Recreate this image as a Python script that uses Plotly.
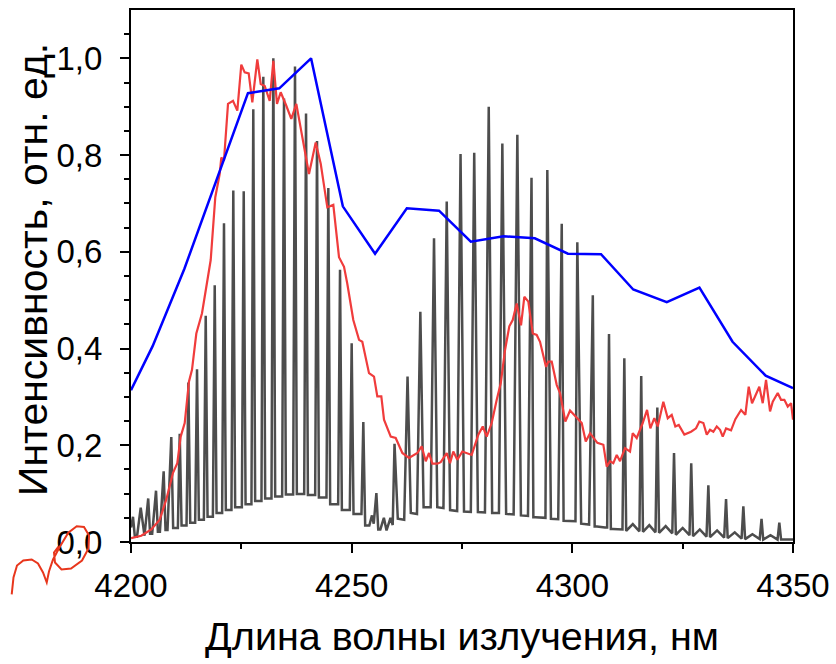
import plotly.graph_objects as go

# ---------------- data ----------------
# Gray high-resolution spectrum: peak tops and valley points (nm, rel. units)
peak_wl = [4200.45, 4202.2, 4203.9, 4205.67, 4207.4, 4209.13, 4211.04, 4213.0, 4214.96, 4216.93,
           4218.97, 4221.07, 4223.18, 4225.54, 4227.71, 4229.98, 4232.25, 4234.67, 4237.16, 4239.66,
           4242.15, 4244.71, 4247.36, 4250.0, 4252.64, 4255.6, 4259.71, 4262.66, 4265.56, 4268.66,
           4271.54, 4274.67, 4277.77, 4281.06, 4284.14, 4287.54, 4290.75, 4294.33, 4297.6, 4301.13,
           4304.64, 4308.31, 4311.78, 4315.61, 4319.26, 4323.04, 4326.94, 4330.82, 4334.83, 4338.75,
           4342.87, 4346.9]
peak_int = [0.052, 0.071, 0.090, 0.106, 0.146, 0.217, 0.224, 0.33, 0.357, 0.468,
            0.531, 0.659, 0.727, 0.725, 0.895, 0.962, 1.0, 0.917, 0.983, 0.886,
            0.829, 0.732, 0.563, 0.411, 0.248, 0.101, 0.203, 0.342, 0.476, 0.628,
            0.704, 0.802, 0.805, 0.900, 0.824, 0.842, 0.753, 0.769, 0.658, 0.620,
            0.510, 0.430, 0.380, 0.343, 0.278, 0.184, 0.163, 0.117, 0.089, 0.074,
            0.048, 0.040]

valley_wl = [4200.0, 4201.36, 4203.06, 4204.8, 4206.55, 4208.27, 4210.08, 4212.0, 4213.96, 4215.93,
             4217.95, 4220.0, 4222.12, 4224.36, 4226.63, 4228.85, 4231.11, 4233.45, 4235.92, 4238.41,
             4240.9, 4243.42, 4246.0, 4248.67, 4251.33,
             4254.0, 4254.6, 4255.0, 4256.5, 4257.3, 4257.9, 4258.8, 4259.3,
             4260.45, 4261.9, 4263.4, 4264.8, 4266.3, 4267.9, 4269.4, 4270.8, 4272.3, 4273.9,
             4275.45, 4277.0, 4278.6, 4280.2, 4281.83, 4283.37, 4285.0, 4286.7, 4288.35, 4289.95,
             4291.65, 4293.4, 4295.15, 4296.8, 4298.5, 4300.25, 4302.0, 4303.8, 4305.6, 4307.4,
             4309.2, 4310.9, 4312.2, 4313.7, 4315.2, 4316.0, 4317.44, 4318.85, 4319.65, 4321.15,
             4322.65, 4323.45, 4325.0, 4326.55, 4327.35, 4328.88, 4330.4, 4331.2, 4332.8, 4334.4,
             4335.2, 4336.8, 4338.35, 4339.15, 4340.8, 4342.45, 4343.25, 4344.9, 4346.5, 4347.3, 4350.0]
valley_int = [0.030, 0.011, 0.013, 0.017, 0.021, 0.025, 0.029, 0.034, 0.040, 0.046,
              0.052, 0.060, 0.066, 0.072, 0.078, 0.085, 0.090, 0.094, 0.098, 0.099,
              0.097, 0.092, 0.078, 0.066, 0.058,
              0.034, 0.055, 0.038, 0.026, 0.050, 0.024, 0.050, 0.035,
              0.048, 0.046, 0.060, 0.058, 0.072, 0.072, 0.072, 0.070, 0.066, 0.064,
              0.063, 0.062, 0.062, 0.061, 0.060, 0.060, 0.058, 0.057, 0.055, 0.054,
              0.051, 0.050, 0.048, 0.047, 0.044, 0.043, 0.038, 0.036, 0.032, 0.030,
              0.027, 0.026, 0.023, 0.037, 0.022, 0.021, 0.035, 0.020, 0.019, 0.033,
              0.018, 0.015, 0.029, 0.014, 0.012, 0.026, 0.011, 0.010, 0.024, 0.009,
              0.008, 0.020, 0.007, 0.006, 0.016, 0.006, 0.005, 0.014, 0.005, 0.005, 0.005]

# Red measured spectrum
red_wl = [4200.0, 4202.33, 4204.6, 4206.5, 4208.0, 4209.52, 4210.49, 4211.26, 4212.17, 4213.14,
          4213.82, 4214.8, 4216.09, 4217.22, 4218.06, 4219.1, 4220.1, 4220.46, 4221.07, 4221.98,
          4223.11, 4224.09, 4224.99, 4225.76, 4226.67, 4227.49, 4228.62, 4229.39, 4230.3, 4231.43,
          4232.25, 4233.08, 4233.92, 4235.19, 4236.32, 4237.46, 4238.45, 4240.33, 4241.85, 4242.99,
          4244.48, 4245.84, 4247.13, 4248.27, 4249.01, 4250.37, 4251.67, 4252.41, 4253.93, 4255.06,
          4255.81, 4256.72, 4257.33, 4258.85, 4259.98, 4261.48, 4262.99, 4264.88, 4265.87, 4266.78,
          4267.53, 4268.28, 4269.41, 4270.18, 4271.54, 4272.29, 4273.03, 4273.94, 4275.07, 4277.2,
          4278.7, 4279.7, 4280.6, 4281.73, 4282.87, 4283.78, 4284.75, 4285.72, 4286.49, 4287.4,
          4288.37, 4289.12, 4290.03, 4291.03, 4291.93, 4292.68, 4294.04, 4294.56, 4295.33, 4296.46,
          4297.21, 4298.41, 4299.48, 4300.84, 4302.13, 4303.04, 4304.01, 4305.67, 4307.03, 4307.8,
          4308.55, 4309.29, 4310.06, 4310.81, 4311.94, 4313.07, 4313.68, 4314.59, 4315.95, 4316.93,
          4317.68, 4318.58, 4319.35, 4320.62, 4321.62, 4322.52, 4323.34, 4324.11, 4325.38, 4326.9,
          4328.03, 4328.78, 4329.69, 4330.46, 4331.2, 4331.95, 4332.72, 4333.47, 4334.08, 4334.83,
          4335.96, 4336.94, 4338.23, 4339.2, 4339.97, 4340.72, 4341.63, 4342.37, 4343.14, 4343.89,
          4344.8, 4345.41, 4346.54, 4347.29, 4348.04, 4348.81, 4349.56, 4350.0]
red_int = [0.008, 0.013, 0.026, 0.046, 0.088, 0.143, 0.163, 0.218, 0.246, 0.332,
           0.356, 0.431, 0.473, 0.534, 0.583, 0.713, 0.761, 0.795, 0.789, 0.906,
           0.912, 0.892, 0.987, 0.971, 0.969, 0.909, 0.998, 0.947, 0.943, 0.912,
           0.995, 0.906, 0.930, 0.902, 0.875, 0.906, 0.857, 0.761, 0.826, 0.782,
           0.692, 0.697, 0.589, 0.569, 0.534, 0.459, 0.418, 0.414, 0.349, 0.342,
           0.301, 0.301, 0.253, 0.218, 0.215, 0.184, 0.174, 0.184, 0.198, 0.167,
           0.184, 0.162, 0.162, 0.165, 0.184, 0.163, 0.187, 0.170, 0.187, 0.180,
           0.222, 0.239, 0.218, 0.246, 0.294, 0.328, 0.397, 0.446, 0.459, 0.493,
           0.448, 0.507, 0.497, 0.431, 0.428, 0.414, 0.362, 0.373, 0.373, 0.325,
           0.308, 0.249, 0.272, 0.259, 0.246, 0.208, 0.225, 0.205, 0.201, 0.156,
           0.167, 0.163, 0.180, 0.167, 0.194, 0.187, 0.225, 0.215, 0.246, 0.273,
           0.235, 0.256, 0.239, 0.290, 0.256, 0.263, 0.239, 0.242, 0.222, 0.228,
           0.235, 0.249, 0.246, 0.222, 0.232, 0.228, 0.239, 0.232, 0.218, 0.235,
           0.231, 0.254, 0.273, 0.263, 0.321, 0.287, 0.308, 0.321, 0.287, 0.335,
           0.270, 0.290, 0.308, 0.294, 0.294, 0.280, 0.287, 0.253]

# Blue curve
blue_wl = [4200.0, 4204.9, 4212.1, 4219.3, 4226.5, 4233.6, 4240.8, 4248.0, 4255.3, 4262.5,
           4269.8, 4277.0, 4284.4, 4291.5, 4299.0, 4306.5, 4313.8, 4321.4, 4328.8, 4336.3,
           4343.8, 4350.0]
blue_int = [0.314, 0.405, 0.565, 0.745, 0.928, 0.938, 1.0, 0.694, 0.596, 0.690,
            0.685, 0.621, 0.632, 0.628, 0.596, 0.595, 0.522, 0.496, 0.526, 0.414,
            0.344, 0.318]

x_tickvals = [4200, 4250, 4300, 4350]
x_ticktext = ["4200", "4250", "4300", "4350"]
x_minor = [4225, 4275, 4325]
y_tickvals = [0.0, 0.2, 0.4, 0.6, 0.8, 1.0]
y_ticktext = ["0,0", "0,2", "0,4", "0,6", "0,8", "1,0"]
y_minor = [0.05, 0.1, 0.15, 0.25, 0.3, 0.35, 0.45, 0.5, 0.55, 0.65, 0.7, 0.75, 0.85, 0.9, 0.95, 1.05]

x_title = "Длина волны излучения, нм"
y_title = "Интенсивность, отн. ед."

# ---------------- build gray trace ----------------
# narrow spike profile: each spike sits on the adjacent valley level and is
# SPIKE_BASE nm wide on either side of its top (a drawing-style parameter)
SPIKE_BASE = 0.42
feet = []
for w, a in zip(peak_wl, peak_int):
    left = [(vw, vi) for vw, vi in zip(valley_wl, valley_int) if vw < w]
    right = [(vw, vi) for vw, vi in zip(valley_wl, valley_int) if vw > w]
    if left and w - left[-1][0] > SPIKE_BASE + 0.45 and w - SPIKE_BASE > 4200:
        feet.append((w - SPIKE_BASE, left[-1][1]))
    if right and right[0][0] - w > SPIKE_BASE + 0.45:
        feet.append((w + SPIKE_BASE, right[0][1]))

pts = sorted(list(zip(peak_wl, peak_int)) + list(zip(valley_wl, valley_int)) + feet)
gray_wl = [p[0] for p in pts]
gray_int = [p[1] for p in pts]

FONT = "Liberation Sans, Arial, sans-serif"

fig = go.Figure()
fig.add_trace(go.Scatter(x=gray_wl, y=gray_int, mode="lines",
                         line=dict(color="#4d4d4d", width=2.5), showlegend=False))
fig.add_trace(go.Scatter(x=red_wl, y=red_int, mode="lines",
                         line=dict(color="#f03c3c", width=2.2), showlegend=False))
fig.add_trace(go.Scatter(x=blue_wl, y=blue_int, mode="lines",
                         line=dict(color="#0000ff", width=2.5), showlegend=False))

axis_common = dict(showgrid=False, zeroline=False, showline=True, linecolor="black",
                   linewidth=2, mirror=True, ticks="outside", ticklen=9, tickwidth=2,
                   tickcolor="black", automargin=False,
                   tickfont=dict(family=FONT, size=33, color="black"))

fig.update_xaxes(range=[4200, 4350], tickmode="array", tickvals=x_tickvals, ticktext=x_ticktext,
                 minor=dict(tickvals=x_minor, ticks="outside", ticklen=5, tickwidth=2,
                            tickcolor="black"),
                 ticklabelstandoff=4,
                 title=dict(text=x_title, font=dict(family=FONT, size=39.5, color="black"),
                            standoff=20),
                 **axis_common)
fig.update_yaxes(range=[0, 1.1], tickmode="array", tickvals=y_tickvals, ticktext=y_ticktext,
                 minor=dict(tickvals=y_minor, ticks="outside", ticklen=5, tickwidth=2,
                            tickcolor="black"),
                 ticklabelstandoff=11,
                 **axis_common)

# y-axis title placed as a rotated annotation to the left of the tick labels
fig.add_annotation(text=y_title, textangle=-90, xref="paper", yref="paper",
                   x=0, y=0.5, xanchor="center", yanchor="middle", xshift=-98, yshift=6,
                   showarrow=False, font=dict(family=FONT, size=41, color="black"))

# decorative red hand-drawn stroke at the lower-left corner (pixel -> paper)
L, R, T, B = 131, 43, 10, 121.5
W, H = 836, 664
pw, ph = W - L - R, H - T - B
stroke_px = [(11.7, 595), (13.5, 578), (17, 566), (23.3, 561), (31.7, 560), (38, 564),
             (43, 573), (46.7, 583), (49, 572), (53, 560), (60, 547), (68.3, 533.3),
             (76.7, 526.7), (84, 527.5), (89, 536), (88.5, 549), (82, 561), (71, 569),
             (61.5, 570), (55, 563), (54, 553), (58.5, 547)]
path = ""
for i, (px, py) in enumerate(stroke_px):
    xp = (px - L) / pw
    yp = (H - B - py) / ph
    path += ("M" if i == 0 else "L") + f"{xp:.4f},{yp:.4f} "
fig.add_shape(type="path", path=path.strip(), xref="paper", yref="paper",
              line=dict(color="#e8361c", width=2))

fig.update_layout(width=W, height=H, margin=dict(l=L, r=R, t=T, b=B),
                  paper_bgcolor="white", plot_bgcolor="white",
                  font=dict(family=FONT, color="black"))

fig.write_html("out.html", config={"displayModeBar": False},
               post_script="document.body.style.margin='0px';"
                           "document.body.style.overflow='hidden';")
